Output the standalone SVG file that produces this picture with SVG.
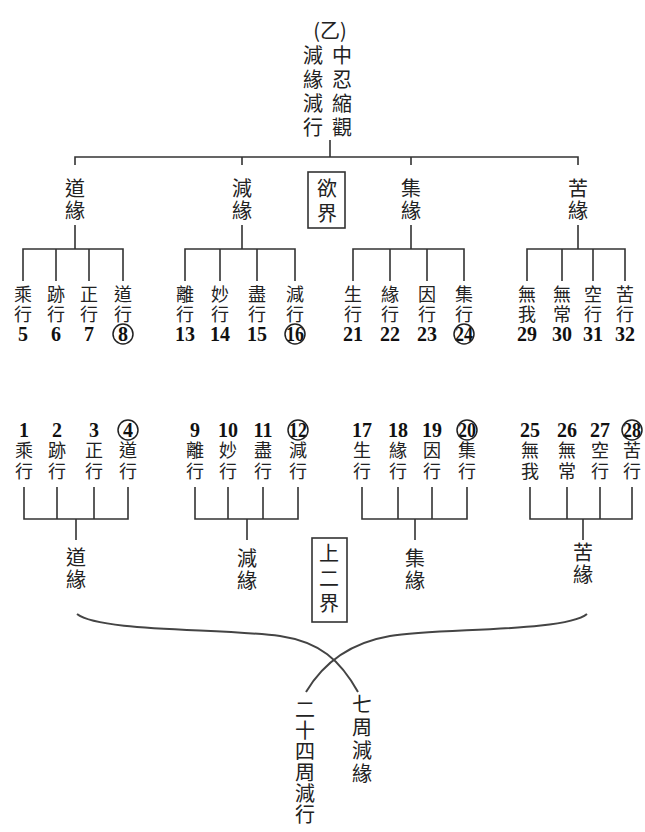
<svg xmlns="http://www.w3.org/2000/svg" width="645" height="832" viewBox="0 0 645 832">
<style>
.c{font-family:"Noto Sans CJK TC","Noto Sans CJK SC",sans-serif;font-size:20px;fill:#222;text-anchor:middle;dominant-baseline:central}
.s{font-size:18px}
.n{font-family:"Liberation Serif",serif;font-size:20px;fill:#111;text-anchor:middle;dominant-baseline:central;font-weight:bold}
.ln{stroke:#333;stroke-width:1.6;fill:none}
.cv{stroke:#444;stroke-width:2;fill:none}
.ci{stroke:#222;stroke-width:1.5;fill:none}
.bx{stroke:#333;stroke-width:1.6;fill:none}
</style>
<rect width="645" height="832" fill="#fff"/>
<g id="connectors">
<path class="ln" d="M330,140V157M75,165V157H578V165M242,157V165M411,157V165"/>
<path class="ln" d="M75,225V249M23,281V249H123V281M56,249V281M89,249V281"/>
<path class="ln" d="M242,225V249M185,281V249H295V281M220,249V281M257,249V281"/>
<path class="ln" d="M411,225V249M353,281V249H464V281M390,249V281M427,249V281"/>
<path class="ln" d="M578,225V249M527,281V249H625V281M562,249V281M593,249V281"/>
<path class="ln" d="M24,487V519H128V487M57,487V519M94,487V519M76,519V540"/>
<path class="ln" d="M195,487V519H298V487M228,487V519M263,487V519M247,519V540"/>
<path class="ln" d="M362,487V519H467V487M398,487V519M432,487V519M415,519V540"/>
<path class="ln" d="M530,487V519H632V487M567,487V519M600,487V519M583,519V540"/>
<path class="cv" d="M77,614C100,632 220,628 280,636C320,642 340,660 358,692"/>
<path class="cv" d="M587,614C565,632 440,628 390,636C355,642 325,660 306,692"/>
</g>
<g id="title">
<text class="c" x="330" y="29">(乙)</text>
<text class="c" x="342" y="54">中</text><text class="c" x="342" y="78">忍</text><text class="c" x="342" y="102">縮</text><text class="c" x="342" y="126">觀</text>
<text class="c" x="313" y="54">減</text><text class="c" x="313" y="78">緣</text><text class="c" x="313" y="102">減</text><text class="c" x="313" y="126">行</text>
</g>
<g id="top-labels">
<text class="c" x="75" y="187">道</text><text class="c" x="75" y="209">緣</text>
<text class="c" x="242" y="187">減</text><text class="c" x="242" y="209">緣</text>
<text class="c" x="411" y="187">集</text><text class="c" x="411" y="209">緣</text>
<text class="c" x="578" y="187">苦</text><text class="c" x="578" y="209">緣</text>
</g>
<g id="yujie">
<rect class="bx" x="308" y="172" width="37" height="56"/>
<text class="c" x="327" y="187">欲</text><text class="c" x="327" y="212">界</text>
</g>
<g id="middle-row">
<text class="c s" x="23" y="293">乘</text><text class="c s" x="23" y="313">行</text><text class="n" x="23" y="334">5</text>
<text class="c s" x="56" y="293">跡</text><text class="c s" x="56" y="313">行</text><text class="n" x="56" y="334">6</text>
<text class="c s" x="89" y="293">正</text><text class="c s" x="89" y="313">行</text><text class="n" x="89" y="334">7</text>
<text class="c s" x="123" y="293">道</text><text class="c s" x="123" y="313">行</text><text class="n" x="123" y="334">8</text><circle class="ci" cx="123" cy="334" r="10"/>
<text class="c s" x="185" y="293">離</text><text class="c s" x="185" y="313">行</text><text class="n" x="185" y="334">13</text>
<text class="c s" x="220" y="293">妙</text><text class="c s" x="220" y="313">行</text><text class="n" x="220" y="334">14</text>
<text class="c s" x="257" y="293">盡</text><text class="c s" x="257" y="313">行</text><text class="n" x="257" y="334">15</text>
<text class="c s" x="295" y="293">減</text><text class="c s" x="295" y="313">行</text><text class="n" x="295" y="334" textLength="18" lengthAdjust="spacingAndGlyphs">16</text><circle class="ci" cx="295" cy="334" r="10"/>
<text class="c s" x="353" y="293">生</text><text class="c s" x="353" y="313">行</text><text class="n" x="353" y="334">21</text>
<text class="c s" x="390" y="293">緣</text><text class="c s" x="390" y="313">行</text><text class="n" x="390" y="334">22</text>
<text class="c s" x="427" y="293">因</text><text class="c s" x="427" y="313">行</text><text class="n" x="427" y="334">23</text>
<text class="c s" x="464" y="293">集</text><text class="c s" x="464" y="313">行</text><text class="n" x="464" y="334" textLength="18" lengthAdjust="spacingAndGlyphs">24</text><circle class="ci" cx="464" cy="334" r="10"/>
<text class="c s" x="527" y="293">無</text><text class="c s" x="527" y="313">我</text><text class="n" x="527" y="334">29</text>
<text class="c s" x="562" y="293">無</text><text class="c s" x="562" y="313">常</text><text class="n" x="562" y="334">30</text>
<text class="c s" x="593" y="293">空</text><text class="c s" x="593" y="313">行</text><text class="n" x="593" y="334">31</text>
<text class="c s" x="625" y="293">苦</text><text class="c s" x="625" y="313">行</text><text class="n" x="625" y="334">32</text>
</g>
<g id="bottom-row">
<text class="n" x="24" y="430">1</text><text class="c s" x="24" y="449">乘</text><text class="c s" x="24" y="470">行</text>
<text class="n" x="57" y="430">2</text><text class="c s" x="57" y="449">跡</text><text class="c s" x="57" y="470">行</text>
<text class="n" x="94" y="430">3</text><text class="c s" x="94" y="449">正</text><text class="c s" x="94" y="470">行</text>
<text class="n" x="128" y="430">4</text><circle class="ci" cx="128" cy="430" r="10"/><text class="c s" x="128" y="449">道</text><text class="c s" x="128" y="470">行</text>
<text class="n" x="195" y="430">9</text><text class="c s" x="195" y="449">離</text><text class="c s" x="195" y="470">行</text>
<text class="n" x="228" y="430">10</text><text class="c s" x="228" y="449">妙</text><text class="c s" x="228" y="470">行</text>
<text class="n" x="263" y="430">11</text><text class="c s" x="263" y="449">盡</text><text class="c s" x="263" y="470">行</text>
<text class="n" x="298" y="430" textLength="18" lengthAdjust="spacingAndGlyphs">12</text><circle class="ci" cx="298" cy="430" r="10"/><text class="c s" x="298" y="449">減</text><text class="c s" x="298" y="470">行</text>
<text class="n" x="362" y="430">17</text><text class="c s" x="362" y="449">生</text><text class="c s" x="362" y="470">行</text>
<text class="n" x="398" y="430">18</text><text class="c s" x="398" y="449">緣</text><text class="c s" x="398" y="470">行</text>
<text class="n" x="432" y="430">19</text><text class="c s" x="432" y="449">因</text><text class="c s" x="432" y="470">行</text>
<text class="n" x="467" y="430" textLength="18" lengthAdjust="spacingAndGlyphs">20</text><circle class="ci" cx="467" cy="430" r="10"/><text class="c s" x="467" y="449">集</text><text class="c s" x="467" y="470">行</text>
<text class="n" x="530" y="430">25</text><text class="c s" x="530" y="449">無</text><text class="c s" x="530" y="470">我</text>
<text class="n" x="567" y="430">26</text><text class="c s" x="567" y="449">無</text><text class="c s" x="567" y="470">常</text>
<text class="n" x="600" y="430">27</text><text class="c s" x="600" y="449">空</text><text class="c s" x="600" y="470">行</text>
<text class="n" x="632" y="430" textLength="18" lengthAdjust="spacingAndGlyphs">28</text><circle class="ci" cx="632" cy="430" r="10"/><text class="c s" x="632" y="449">苦</text><text class="c s" x="632" y="470">行</text>
</g>
<g id="bottom-labels">
<text class="c" x="76" y="556">道</text><text class="c" x="76" y="578">緣</text>
<text class="c" x="247" y="557">減</text><text class="c" x="247" y="579">緣</text>
<text class="c" x="415" y="557">集</text><text class="c" x="415" y="579">緣</text>
<text class="c" x="583" y="551">苦</text><text class="c" x="583" y="573">緣</text>
</g>
<g id="shangerjie">
<rect class="bx" x="312" y="538" width="35" height="84"/>
<text class="c" x="329" y="552">上</text><text class="c" x="329" y="577">二</text><text class="c" x="329" y="602">界</text>
</g>
<g id="ershisi">
<text class="c" x="305" y="708">二</text><text class="c" x="305" y="729">十</text><text class="c" x="305" y="750">四</text><text class="c" x="305" y="771">周</text><text class="c" x="305" y="792">減</text><text class="c" x="305" y="813">行</text>
</g>
<g id="qizhou">
<text class="c" x="362" y="703">七</text><text class="c" x="362" y="726">周</text><text class="c" x="362" y="749">減</text><text class="c" x="362" y="772">緣</text>
</g>
</svg>
